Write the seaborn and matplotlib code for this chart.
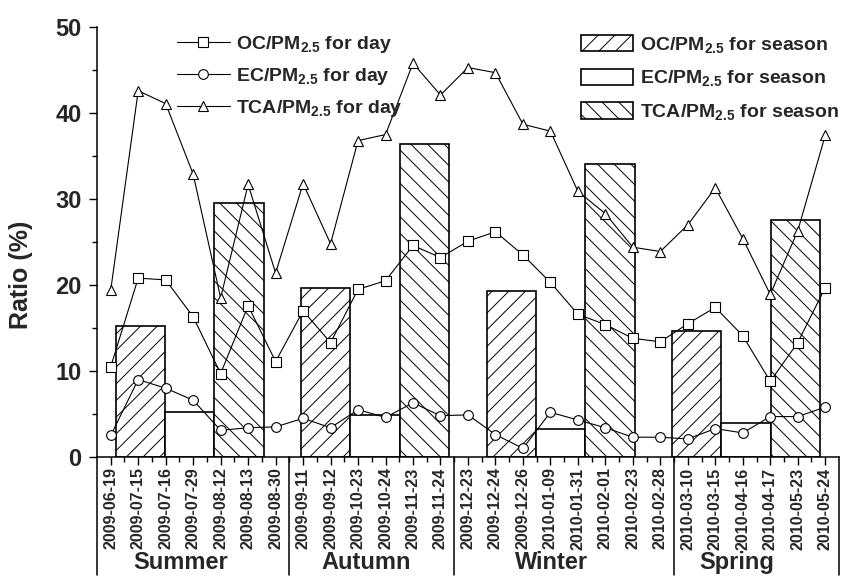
import numpy as np
import pandas as pd
import matplotlib
matplotlib.use("Agg")
import matplotlib.pyplot as plt
import seaborn as sns
from matplotlib.ticker import MultipleLocator
from matplotlib.transforms import blended_transform_factory

# ---------------- data ----------------
dates = ['2009-06-19', '2009-07-15', '2009-07-16', '2009-07-29', '2009-08-12',
         '2009-08-13', '2009-08-30', '2009-09-11', '2009-09-12', '2009-10-23',
         '2009-10-24', '2009-11-23', '2009-11-24', '2009-12-23', '2009-12-24',
         '2009-12-26', '2010-01-09', '2010-01-31', '2010-02-01', '2010-02-23',
         '2010-02-28', '2010-03-10', '2010-03-15', '2010-04-16', '2010-04-17',
         '2010-05-23', '2010-05-24']

oc_day = [10.5, 20.8, 20.6, 16.3, 9.7, 17.6, 11.1, 17.0, 13.3, 19.5, 20.5,
          24.6, 23.2, 25.1, 26.2, 23.5, 20.3, 16.6, 15.4, 13.8, 13.4, 15.5,
          17.4, 14.1, 8.8, 13.3, 19.7]
ec_day = [2.5, 9.0, 8.0, 6.6, 3.1, 3.4, 3.5, 4.5, 3.4, 5.5, 4.6, 6.3, 4.8,
          4.9, 2.6, 1.0, 5.2, 4.3, 3.4, 2.3, 2.3, 2.1, 3.3, 2.8, 4.7, 4.7, 5.8]
tca_day = [19.4, 42.6, 41.1, 32.9, 18.5, 31.7, 21.4, 31.8, 24.8, 36.8, 37.5,
           45.8, 42.1, 45.3, 44.7, 38.7, 37.9, 30.9, 28.3, 24.4, 23.9, 27.0,
           31.3, 25.4, 18.9, 26.3, 37.4]

seasons = ['Summer', 'Autumn', 'Winter', 'Spring']
season_sizes = [7, 6, 8, 6]
oc_season = [15.2, 19.6, 19.3, 14.7]
ec_season = [5.2, 4.9, 3.2, 3.9]
tca_season = [29.6, 36.4, 34.1, 27.6]

# ---------------- style ----------------
sns.set_theme(style="ticks")
plt.rcParams['font.family'] = ['Liberation Sans', 'DejaVu Sans']
plt.rcParams['font.weight'] = 'bold'
plt.rcParams['axes.labelweight'] = 'bold'
plt.rcParams['mathtext.fontset'] = 'custom'
plt.rcParams['mathtext.rm'] = 'Liberation Sans:bold'
plt.rcParams['mathtext.bf'] = 'Liberation Sans:bold'
plt.rcParams['mathtext.it'] = 'Liberation Sans:bold'
plt.rcParams['hatch.linewidth'] = 0.7
plt.rcParams['hatch.color'] = 'black'

fig = plt.figure(figsize=(8.47, 5.77), dpi=100)
ax = fig.add_axes([0.1145, 0.208, 0.876, 0.745])

n = len(dates)
idx = np.arange(n)

# ---------------- season bars ----------------
span = n / len(seasons)
centers = -0.5 + span * (np.arange(len(seasons)) + 0.5)
bw = 1.8
bar_handles = []
for vals, off, hatch, lab in [
        (oc_season, -bw, '//', r'OC/PM$_{2.5}$ for season'),
        (ec_season, 0.0, '', r'EC/PM$_{2.5}$ for season'),
        (tca_season, bw, '\\\\', r'TCA/PM$_{2.5}$ for season')]:
    bc = ax.bar(centers + off, vals, width=bw, facecolor='white',
                edgecolor='black', linewidth=1.2, hatch=hatch, zorder=1,
                label=lab)
    bar_handles.append(bc)

# ---------------- daily lines ----------------
line_handles = []
for vals, mk, ms, lab in [
        (oc_day, 's', 6.5, r'OC/PM$_{2.5}$ for day'),
        (ec_day, 'o', 7.0, r'EC/PM$_{2.5}$ for day'),
        (tca_day, '^', 7.5, r'TCA/PM$_{2.5}$ for day')]:
    df = pd.DataFrame({'x': idx, 'y': vals})
    sns.lineplot(data=df, x='x', y='y', ax=ax, color='black', linewidth=0.8,
                 marker=mk, markersize=ms, markerfacecolor='white',
                 markeredgecolor='black', markeredgewidth=0.8, zorder=3,
                 legend=False)
    ln = ax.lines[-1]
    ln.set_label(lab)
    line_handles.append(ln)

# ---------------- axes ----------------
ax.set_xlim(-0.5, n - 0.5)
ax.set_ylim(0, 50)
ax.yaxis.set_major_locator(MultipleLocator(10))
ax.yaxis.set_minor_locator(MultipleLocator(5))
ax.set_xticks(idx)
ax.set_xticks(idx[:-1] + 0.5, minor=True)
ax.set_xticklabels(dates, rotation=90, fontsize=11.5, fontweight='bold')
for t in ax.get_yticklabels():
    t.set_fontsize(17)
    t.set_fontweight('bold')
ax.tick_params(axis='y', which='major', length=6, width=1.0, pad=5,
               labelsize=17, color='black')
ax.tick_params(axis='y', which='minor', length=3.5, width=1.0, color='black')
ax.tick_params(axis='x', which='major', length=6, width=1.0, pad=1.5,
               color='black')
ax.tick_params(axis='x', which='minor', length=3.5, width=1.0, color='black')
for s in ['top', 'right']:
    ax.spines[s].set_visible(False)
for s in ['left', 'bottom']:
    ax.spines[s].set_linewidth(1.1)
    ax.spines[s].set_color('black')
ax.set_xlabel('')
ax.set_ylabel('Ratio (%)', fontsize=18, fontweight='bold')
ax.yaxis.set_label_coords(-0.086, 0.423)

# season separators and labels below the axis
trans = blended_transform_factory(ax.transData, ax.transAxes)
bounds = np.concatenate([[0], np.cumsum(season_sizes)]) - 0.5
for b in bounds:
    ax.plot([b, b], [0, -0.275], transform=trans, color='black', lw=1.1,
            clip_on=False)
for i, name in enumerate(seasons):
    ax.text(centers[i] - 0.33, -0.246, name, transform=trans, ha='center',
            va='center', fontsize=17, fontweight='bold')

# ---------------- legends ----------------
leg1 = ax.legend(handles=line_handles, loc='upper left',
                 bbox_to_anchor=(0.108, 0.985), frameon=False, fontsize=14,
                 handlelength=2.7, handletextpad=0.35, labelspacing=0.58,
                 borderpad=0, borderaxespad=0)
ax.add_artist(leg1)
leg2 = ax.legend(handles=bar_handles, loc='upper left',
                 bbox_to_anchor=(0.652, 0.982), frameon=False, fontsize=14,
                 handlelength=2.7, handleheight=0.93, handletextpad=0.35,
                 labelspacing=0.7, borderpad=0, borderaxespad=0)

fig.savefig('out.png', dpi=100)
